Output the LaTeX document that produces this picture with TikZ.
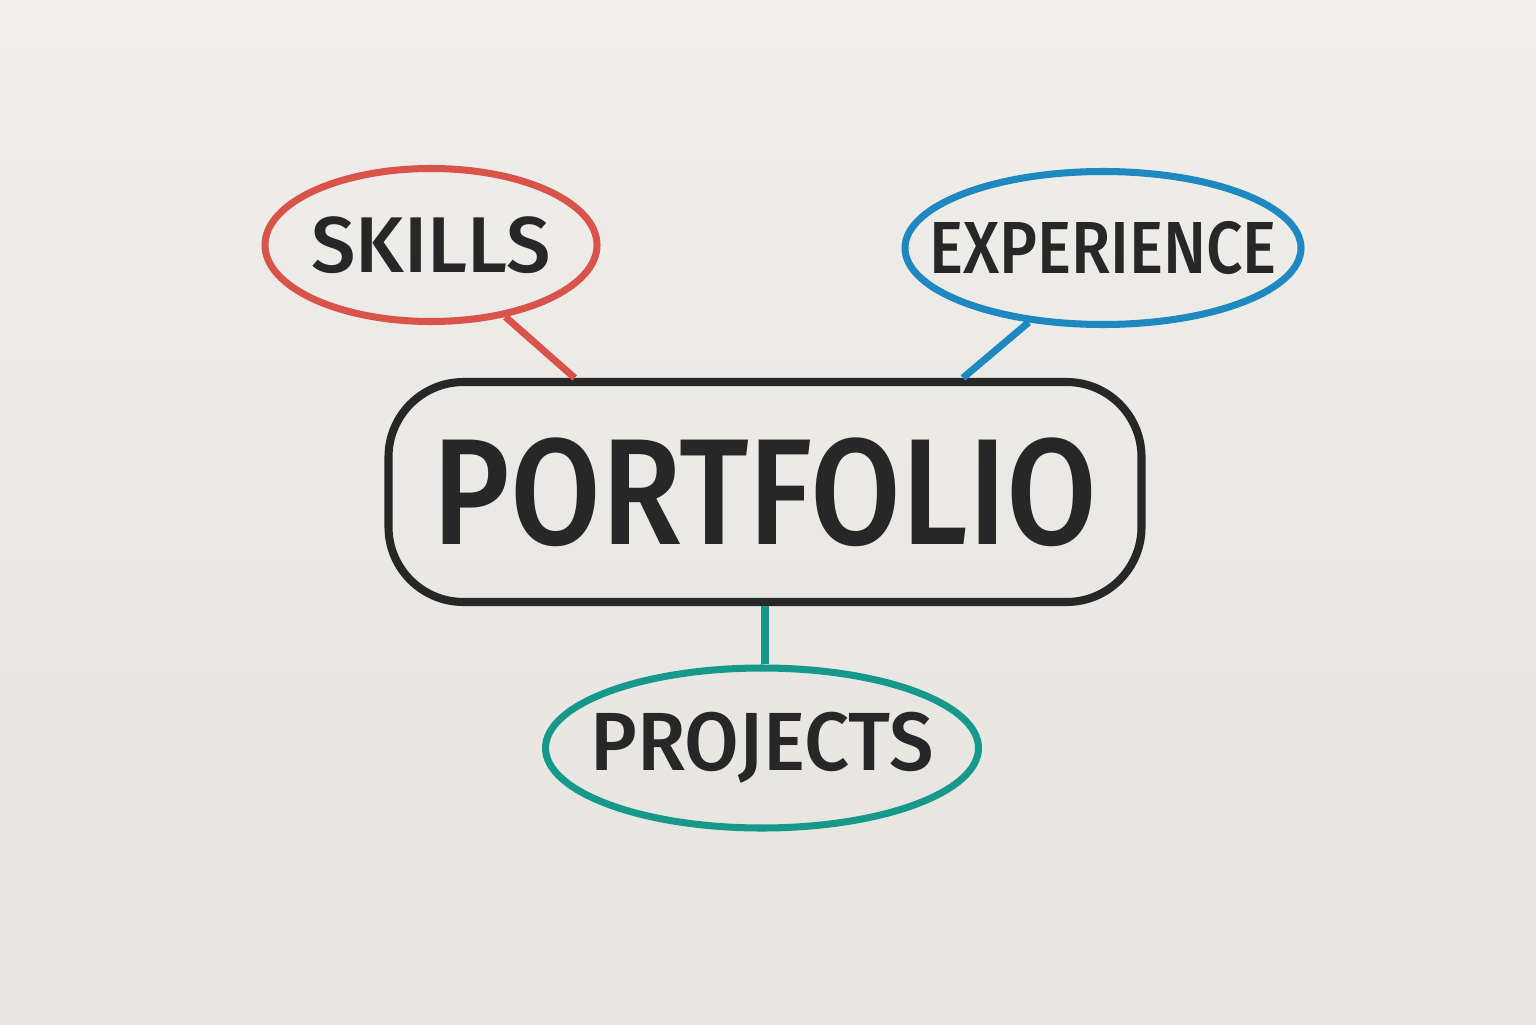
\documentclass[tikz,border=0pt]{standalone}
\usepackage{fontspec}
\setmainfont{Fira Sans}[BoldFont={Fira Sans Medium}]
\usetikzlibrary{shapes.geometric,calc}
\definecolor{papertop}{HTML}{EFEEEA}
\definecolor{paperbottom}{HTML}{E6E4DF}
\definecolor{inkblack}{HTML}{272727}
\definecolor{skillred}{HTML}{D9534A}
\definecolor{expblue}{HTML}{1E88C0}
\definecolor{projteal}{HTML}{16998A}
% size, horizontal squeeze, text
\newcommand{\bubbletext}[3]{\makebox[0pt]{\scalebox{#2}[1]{\fontsize{#1}{#1}\selectfont #3}}}
\begin{document}
\begin{tikzpicture}[line width=2pt, every node/.style={text=inkblack, font=\bfseries}]
  % Set the page and its background
  \shade[top color=papertop, bottom color=paperbottom] (0,0) rectangle (15.36,10.24);
  \useasboundingbox (0,0) rectangle (15.36,10.24);
  % Add the central box
  \node[draw=inkblack, line width=2.3pt, rounded corners=0.75cm, minimum width=7.53cm, minimum height=2.2cm, inner sep=0]
    (portfolio) at (7.65,5.32) {\bubbletext{43}{0.87}{PORTFOLIO}};
  % Add the three bubbles
  \node[draw=skillred, ellipse, minimum width=3.32cm, minimum height=1.53cm, inner sep=0]
    (skills) at (4.31,7.79) {\bubbletext{22.5}{1.0}{SKILLS}};
  \node[draw=expblue, ellipse, minimum width=3.96cm, minimum height=1.53cm, inner sep=0]
    (experience) at (11.03,7.76) {\bubbletext{21}{0.87}{EXPERIENCE}};
  \node[draw=projteal, ellipse, minimum width=4.33cm, minimum height=1.6cm, inner sep=0]
    (projects) at (7.62,2.76) {\bubbletext{23.5}{0.96}{PROJECTS}};
  % Link the bubbles to the box
  \draw[skillred] (skills.-44) -- ($(portfolio.north west)!0.25!(portfolio.north east)$);
  \draw[expblue] (experience.-135) -- ($(portfolio.north west)!0.76!(portfolio.north east)$);
  \draw[projteal] (portfolio.south) -- (portfolio.south |- projects.north);
\end{tikzpicture}
\end{document}
